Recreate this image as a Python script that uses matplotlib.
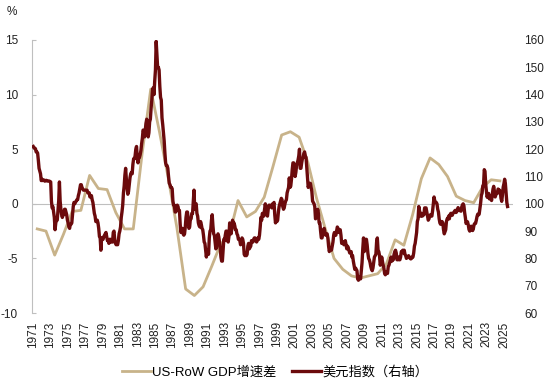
import numpy as np
import matplotlib
matplotlib.use("Agg")
import matplotlib.pyplot as plt

plt.rcParams['font.family'] = ['Liberation Sans', 'Noto Sans CJK SC', 'DejaVu Sans']
plt.rcParams['axes.unicode_minus'] = False

# US minus rest-of-world real GDP growth, annual (left axis, %)
gdp_years = list(range(1971, 2025))
gdp_diff = [-2.3, -2.5, -4.7, -2.8, -0.7, -0.6, 2.6, 1.4, 1.3, -0.8,
            -2.3, -2.3, 4.5, 10.5, 6.6, 2.4, -2.2, -7.8, -8.4, -7.6,
            -5.7, -3.7, -2.9, 0.3, -1.2, -0.7, 0.6, 3.4, 6.3, 6.6,
            6.1, 3.8, 0.5, -2.3, -5.0, -6.0, -6.6, -6.8, -6.6, -6.4,
            -5.5, -3.3, -3.8, -1.0, 2.3, 4.2, 3.6, 2.5, 0.7, 0.3,
            0.1, 1.5, 2.2, 2.1]

# US dollar index, monthly (right axis)
dxy = {
    1971: [121.0, 120.5, 120.4, 120.2, 119.0, 119.0, 118.6, 116.0, 113.0, 112.0, 111.0, 108.5],
    1972: [109.0, 108.5, 108.6, 108.7, 108.3, 108.5, 108.6, 108.4, 108.3, 108.4, 108.3, 108.2],
    1973: [108.0, 101.0, 98.5, 99.0, 97.0, 95.0, 90.5, 93.0, 94.0, 94.0, 97.5, 101.0],
    1974: [108.0, 101.0, 98.0, 96.0, 95.0, 96.0, 96.0, 98.0, 98.0, 97.0, 96.0, 94.0],
    1975: [93.0, 91.5, 91.0, 92.5, 92.5, 93.0, 96.0, 99.0, 100.5, 100.0, 100.5, 101.0],
    1976: [101.5, 101.5, 103.0, 104.0, 105.5, 107.0, 107.0, 106.0, 105.5, 105.0, 105.0, 105.0],
    1977: [105.0, 105.0, 105.0, 104.0, 104.0, 104.0, 102.5, 103.0, 103.0, 101.5, 100.5, 98.5],
    1978: [96.5, 95.5, 93.5, 93.5, 94.0, 93.0, 91.0, 88.0, 87.5, 83.0, 87.5, 87.0],
    1979: [87.0, 88.0, 88.5, 89.0, 89.5, 88.0, 86.5, 86.5, 85.5, 87.0, 87.0, 86.0],
    1980: [86.0, 86.0, 89.5, 90.0, 87.0, 85.5, 85.0, 85.5, 85.0, 86.5, 89.0, 90.0],
    1981: [91.5, 95.0, 97.0, 99.5, 104.0, 106.5, 110.5, 113.0, 109.0, 106.0, 103.5, 104.5],
    1982: [107.0, 109.5, 111.0, 111.5, 111.0, 114.5, 116.5, 116.5, 117.5, 120.0, 121.0, 117.0],
    1983: [115.0, 117.0, 117.0, 118.0, 119.5, 122.0, 124.0, 127.0, 126.5, 124.5, 127.0, 129.5],
    1984: [131.0, 128.0, 124.5, 126.0, 130.0, 131.0, 135.0, 138.0, 142.0, 142.5, 140.0, 145.0],
    1985: [149.0, 159.5, 155.0, 150.0, 150.0, 149.0, 143.0, 139.0, 138.0, 131.5, 129.0, 126.0],
    1986: [123.0, 118.5, 115.0, 114.0, 114.0, 113.0, 110.0, 107.5, 107.0, 106.0, 106.0, 105.5],
    1987: [101.0, 99.5, 99.5, 97.0, 97.0, 98.5, 99.5, 99.0, 97.5, 97.5, 92.5, 89.5],
    1988: [90.5, 91.0, 89.0, 88.5, 89.0, 91.5, 95.0, 97.0, 97.0, 94.5, 91.0, 91.5],
    1989: [94.5, 94.5, 96.5, 96.5, 101.0, 105.0, 98.0, 100.0, 100.0, 96.5, 95.5, 93.0],
    1990: [92.0, 91.5, 93.5, 92.5, 91.0, 90.5, 88.5, 86.0, 85.5, 83.0, 80.5, 83.0],
    1991: [82.5, 81.5, 87.5, 90.0, 90.5, 94.0, 96.0, 92.0, 89.0, 88.5, 86.0, 83.5],
    1992: [84.0, 87.0, 89.0, 88.0, 86.0, 84.0, 80.5, 79.0, 79.0, 83.0, 87.0, 86.5],
    1993: [88.5, 90.0, 90.0, 86.5, 86.0, 88.0, 93.0, 92.0, 89.0, 91.0, 94.0, 92.0],
    1994: [93.0, 92.0, 90.5, 90.5, 89.0, 88.5, 87.0, 87.0, 86.5, 85.0, 86.0, 87.5],
    1995: [87.0, 85.5, 81.5, 81.0, 81.5, 81.0, 81.5, 84.5, 85.5, 83.5, 84.0, 84.5],
    1996: [86.5, 86.0, 86.0, 87.0, 87.5, 87.5, 86.5, 86.0, 86.5, 87.5, 87.0, 88.5],
    1997: [91.5, 95.0, 94.0, 96.5, 95.5, 95.5, 98.0, 100.0, 98.0, 96.0, 95.5, 98.0],
    1998: [99.5, 99.0, 99.5, 99.0, 98.5, 100.0, 100.0, 100.5, 96.0, 93.0, 94.5, 93.5],
    1999: [94.0, 97.0, 99.0, 100.0, 101.0, 102.0, 101.5, 99.0, 98.0, 98.5, 100.0, 101.0],
    2000: [101.5, 104.0, 105.0, 106.0, 109.5, 106.0, 106.5, 109.0, 112.5, 115.0, 115.0, 112.0],
    2001: [110.0, 111.5, 114.0, 115.0, 116.0, 117.5, 120.0, 113.0, 113.0, 115.0, 116.5, 117.0],
    2002: [118.5, 119.0, 117.5, 117.0, 113.5, 110.0, 106.0, 107.0, 107.5, 107.5, 106.0, 104.5],
    2003: [101.0, 100.5, 100.0, 99.0, 94.5, 95.0, 96.0, 98.0, 96.5, 93.0, 93.0, 90.0],
    2004: [87.5, 87.5, 89.0, 90.5, 91.0, 89.5, 88.5, 89.0, 89.0, 87.5, 84.5, 82.5],
    2005: [83.5, 84.0, 83.0, 84.5, 86.0, 88.5, 89.5, 88.5, 88.5, 90.0, 91.5, 91.0],
    2006: [89.5, 90.5, 90.5, 88.5, 85.5, 86.0, 86.0, 85.0, 86.0, 86.5, 85.0, 83.5],
    2007: [84.5, 84.0, 83.0, 82.0, 82.0, 82.5, 80.5, 81.0, 79.0, 77.5, 76.0, 76.5],
    2008: [76.0, 75.5, 72.5, 72.0, 73.0, 73.0, 72.5, 75.5, 78.5, 83.5, 87.5, 82.5],
    2009: [84.5, 87.0, 87.0, 85.0, 82.0, 80.0, 79.5, 78.5, 77.0, 76.0, 75.5, 76.5],
    2010: [78.5, 80.5, 81.0, 81.5, 86.0, 87.5, 83.0, 82.5, 81.0, 77.5, 78.5, 80.5],
    2011: [79.0, 77.5, 76.5, 74.5, 74.0, 75.0, 74.5, 74.5, 77.0, 77.5, 78.5, 79.5],
    2012: [80.5, 79.0, 79.5, 79.5, 81.5, 82.5, 83.0, 82.0, 79.5, 79.5, 80.5, 79.5],
    2013: [79.5, 80.5, 82.5, 82.5, 83.0, 82.0, 83.0, 81.5, 81.0, 80.0, 80.5, 80.5],
    2014: [81.0, 80.5, 80.0, 79.8, 80.0, 80.5, 80.5, 82.0, 84.5, 85.5, 87.5, 89.5],
    2015: [93.5, 94.5, 99.0, 97.5, 95.5, 95.5, 96.5, 95.5, 95.8, 96.0, 98.5, 98.5],
    2016: [98.5, 97.0, 95.5, 94.0, 94.5, 95.5, 96.0, 95.5, 95.5, 97.5, 100.0, 102.5],
    2017: [101.0, 100.5, 100.5, 100.0, 98.0, 97.0, 94.5, 93.0, 92.5, 93.5, 93.5, 93.0],
    2018: [90.5, 89.0, 89.8, 90.5, 93.5, 94.5, 94.5, 95.5, 94.5, 96.0, 96.5, 96.5],
    2019: [95.8, 96.5, 96.8, 97.2, 97.6, 96.8, 97.0, 97.9, 98.6, 97.8, 97.9, 97.4],
    2020: [97.3, 98.8, 99.6, 100.0, 99.3, 96.8, 95.0, 92.8, 93.3, 93.4, 92.3, 90.6],
    2021: [90.0, 90.6, 91.8, 91.5, 90.2, 90.9, 92.4, 92.8, 92.8, 93.9, 95.3, 96.2],
    2022: [95.9, 96.2, 98.2, 100.3, 103.1, 103.9, 106.6, 106.8, 112.5, 111.9, 107.1, 104.5],
    2023: [102.4, 103.6, 103.8, 101.8, 102.7, 103.0, 101.2, 103.2, 105.4, 106.4, 104.4, 102.5],
    2024: [103.3, 104.1, 103.8, 105.4, 105.0, 105.0, 104.5, 102.0, 100.9, 103.2, 106.1, 107.3],
    2025: [109.0, 107.5, 104.0, 100.5, 99.0],
}

dxy_t = [y + (m + 0.5) / 12 for y, vals in dxy.items() for m in range(len(vals))]
dxy_v = [v for vals in dxy.values() for v in vals]
gdp_t = [y + 0.5 for y in gdp_years]

tan = '#C8B38A'
dark = '#6B0A0C'
grey = '#BFBFBF'

fig = plt.figure(figsize=(5.5, 3.9), dpi=100)
ax = fig.add_axes([32 / 550, 1 - 313 / 390, 481 / 550, 273 / 390])
ax2 = ax.twinx()

ax.axhline(0, color=grey, lw=0.8, zorder=0)
l1, = ax.plot(gdp_t, gdp_diff, color=tan, lw=2.0, label='US-RoW GDP增速差')
l2, = ax2.plot(dxy_t, dxy_v, color=dark, lw=2.4, label='美元指数（右轴）')

ax.set_xlim(1970.9, 2026.0)
ax.set_ylim(-10, 15)
ax.set_yticks(range(-10, 16, 5))
ax2.set_ylim(60, 160)
ax2.set_yticks(range(60, 161, 10))

years = list(range(1971, 2026, 2))
ax.set_xticks(years)
ax.set_xticklabels([str(y) for y in years], rotation=90, fontsize=8.5, color='#222222')
ax.tick_params(axis='x', length=0, pad=6)
ax.tick_params(axis='y', length=3, direction='in', color=grey, labelsize=8.5,
               labelcolor='#222222', pad=10)
ax2.tick_params(axis='y', length=0, labelsize=8.5, labelcolor='#222222', pad=8)

for s in ['top', 'right', 'bottom']:
    ax.spines[s].set_visible(False)
ax.spines['left'].set_color(grey)
for s in ax2.spines.values():
    s.set_visible(False)

fig.text(12 / 550, 1 - 12 / 390, '%', fontsize=8.5, color='#222222', ha='center', va='center')

fig.legend(handles=[l1, l2], loc='center', bbox_to_anchor=(0.5, 1 - 372 / 390), ncol=2,
           frameon=False, fontsize=9.5, handlelength=2.2, columnspacing=1.2, handletextpad=0.1)

fig.savefig('out.png', dpi=100)
